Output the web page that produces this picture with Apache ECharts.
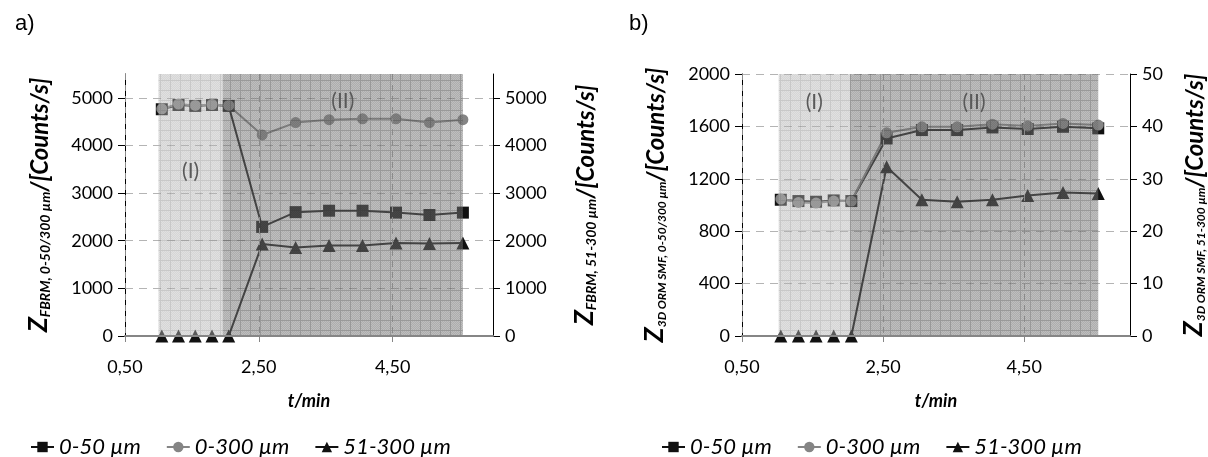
<!DOCTYPE html>
<html>
<head>
<meta charset="utf-8">
<script src="https://cdn.jsdelivr.net/npm/echarts@6/dist/echarts.min.js"></script>
<style>
  html, body { margin: 0; padding: 0; background: #fff; }
  #main { width: 1208px; height: 457px; }
</style>
</head>
<body>
<div id="main"></div>
<script>
// time points (min), same for both panels
var tMin = [1.05, 1.3, 1.55, 1.8, 2.05, 2.55, 3.05, 3.55, 4.05, 4.55, 5.05, 5.55];
var seriesNames = ['0-50 µm', '0-300 µm', '51-300 µm'];

// panel a) FBRM
var fbrm050 = [4760, 4850, 4830, 4850, 4830, 2290, 2600, 2630, 2630, 2590, 2540, 2590];
var fbrm0300 = [4770, 4870, 4840, 4860, 4840, 4220, 4480, 4540, 4560, 4560, 4480, 4540];
var fbrm51300 = [0, 0, 0, 0, 0, 1930, 1860, 1900, 1900, 1950, 1940, 1950];
var phaseA = [1.0, 1.96, 5.55];   // borders of (I) and (II)

// panel b) 3D ORM SMF
var orm050 = [1040, 1030, 1025, 1035, 1030, 1508, 1572, 1572, 1592, 1580, 1597, 1585];
var orm0300 = [1045, 1020, 1015, 1030, 1030, 1551, 1597, 1597, 1617, 1604, 1623, 1610];
var orm51300 = [0, 0, 0, 0, 0, 32.3, 26.0, 25.6, 26.0, 26.8, 27.4, 27.2];
var phaseB = [1.02, 2.03, 5.55];

var xTicks = [0.5, 2.5, 4.5];
var yTicksA = [0, 1000, 2000, 3000, 4000, 5000];

var FONT = 'Lato';

function pts(ys) {
  return tMin.map(function (t, i) { return [t, ys[i]]; });
}

// hatched, semi transparent fill (drawn over the lines like in the original)
function makePattern(base, dither, line) {
  var c = document.createElement('canvas');
  c.width = 10; c.height = 10;
  var g = c.getContext('2d');
  for (var y = 0; y < 10; y++) {
    for (var x = 0; x < 10; x++) {
      g.fillStyle = (x === 0 || y === 0) ? line : ((x + y) % 2 ? dither : base);
      g.fillRect(x, y, 1, 1);
    }
  }
  return { image: c, repeat: 'repeat' };
}
var lightFill = makePattern('rgba(185,185,185,0.44)', 'rgba(170,170,170,0.48)', 'rgba(150,150,150,0.52)');
var darkFill = makePattern('rgba(125,125,125,0.5)', 'rgba(105,105,105,0.54)', 'rgba(90,90,90,0.62)');

var phaseLabel = { show: true, position: 'insideTop', color: '#595959', fontSize: 21, fontFamily: FONT };

function phaseAreas(b, offI, offII) {
  return [
    [{ xAxis: b[0], itemStyle: { color: lightFill }, label: Object.assign({}, phaseLabel, { formatter: '(I)', offset: [0, offI] }) }, { xAxis: b[1] }],
    [{ xAxis: b[1], itemStyle: { color: darkFill }, label: Object.assign({}, phaseLabel, { formatter: '(II)', offset: [0, offII] }) }, { xAxis: b[2] }]
  ];
}

var tickFmt = function (v) { return v.toFixed(2).replace('.', ','); };

function xAxisOf(grid) {
  return {
    type: 'value', gridIndex: grid, min: 0.5, max: 6, z: 6,
    name: 't/min', nameLocation: 'middle', nameGap: 56, nameMoveOverlap: false,
    nameTextStyle: { fontFamily: FONT, fontSize: 18, fontWeight: 'bold', fontStyle: 'italic', color: '#000' },
    axisLine: { lineStyle: { color: '#868686', width: 2 } },
    axisTick: { length: 6, lineStyle: { color: '#868686' }, customValues: xTicks },
    axisLabel: { customValues: xTicks, formatter: tickFmt, margin: 22, fontFamily: FONT, fontSize: 18, color: '#000' },
    splitLine: { show: true, lineStyle: { color: '#8a8a8a', type: [6, 5] } }
  };
}

function yName(sub) {
  return '{z|Z}{s|' + sub + '}{u|/[Counts/s]}';
}
function yNameStyle(subSize) {
  return {
    color: '#000', fontFamily: FONT, fontWeight: 'bold', fontStyle: 'italic',
    rich: {
      z: { fontFamily: FONT, fontSize: 27, fontWeight: 'bold', fontStyle: 'italic', verticalAlign: 'bottom', lineHeight: 28 },
      s: { fontFamily: FONT, fontSize: subSize, fontWeight: 'bold', fontStyle: 'italic', verticalAlign: 'bottom', lineHeight: 21 },
      u: { fontFamily: FONT, fontSize: 24, fontWeight: 'bold', fontStyle: 'italic', verticalAlign: 'bottom', lineHeight: 28 }
    }
  };
}

function yAxisOf(grid, pos, min, max, interval, ticks, sub, subSize, gap, split) {
  var ax = {
    type: 'value', gridIndex: grid, position: pos, min: min, max: max, interval: interval,
    name: yName(sub), nameLocation: 'middle', nameRotate: 90, nameGap: gap, nameMoveOverlap: false,
    nameTextStyle: yNameStyle(subSize),
    axisLine: { show: true, lineStyle: { color: '#000', width: 1 } },
    axisTick: { show: true, length: 7, lineStyle: { color: '#000' } },
    axisLabel: { margin: 12, fontFamily: FONT, fontSize: 18, color: '#000', formatter: function (v) { return String(v); } },
    splitLine: { show: split, lineStyle: { color: '#b4b4b4', type: [8, 6] } }
  };
  if (ticks) {
    ax.axisTick.customValues = ticks;
    ax.axisLabel.customValues = ticks;
  }
  return ax;
}

var sq = { symbol: 'rect', symbolSize: 12, color: '#111', lineStyle: { color: '#111', width: 2 } };
var ci = { symbol: 'circle', symbolSize: 11, color: '#858585', lineStyle: { color: '#858585', width: 2 } };
var tr = { symbol: 'triangle', symbolSize: 13, color: '#111', lineStyle: { color: '#111', width: 2 } };

function lineSeries(name, style, xi, yi, ys, area) {
  var s = {
    name: name, type: 'line', xAxisIndex: xi, yAxisIndex: yi, data: pts(ys),
    symbol: style.symbol, symbolSize: style.symbolSize, showSymbol: true,
    itemStyle: { color: style.color, opacity: 1 }, lineStyle: style.lineStyle,
    clip: false, z: 3
  };
  if (area) s.markArea = { silent: true, z: 5, data: area };
  return s;
}

var legendBase = {
  top: 430, itemWidth: 23, itemHeight: 13, itemGap: 25, data: seriesNames,
  textStyle: { fontFamily: FONT, fontSize: 22, fontStyle: 'italic', color: '#000', lineHeight: 24 },
  selectedMode: false
};

var chart = echarts.init(document.getElementById('main'), null, { renderer: 'canvas' });
var option = {
  animation: false,
  backgroundColor: '#fff',
  title: [
    { text: 'a)', left: 10, top: 8, textStyle: { fontFamily: 'Liberation Sans', fontSize: 22, fontWeight: 'normal', color: '#000' } },
    { text: 'b)', left: 624, top: 8, textStyle: { fontFamily: 'Liberation Sans', fontSize: 22, fontWeight: 'normal', color: '#000' } }
  ],
  legend: [
    Object.assign({}, legendBase, { left: 25 }),
    Object.assign({}, legendBase, { left: 656 })
  ],
  grid: [
    { left: 125, top: 74, width: 368, height: 262 },
    { left: 742, top: 74, width: 389, height: 262 }
  ],
  xAxis: [xAxisOf(0), xAxisOf(1)],
  yAxis: [
    yAxisOf(0, 'left', 0, 5500, 1000, yTicksA, 'FBRM, 0-50/300 µm', 14, 73, true),
    yAxisOf(0, 'right', 0, 5500, 1000, yTicksA, 'FBRM, 51-300 µm', 14, 77, false),
    yAxisOf(1, 'left', 0, 2000, 400, null, '3D ORM SMF, 0-50/300 µm', 12, 74, true),
    yAxisOf(1, 'right', 0, 50, 10, null, '3D ORM SMF, 51-300 µm', 12, 49, false)
  ],
  series: [
    lineSeries(seriesNames[0], sq, 0, 0, fbrm050),
    lineSeries(seriesNames[1], ci, 0, 0, fbrm0300),
    lineSeries(seriesNames[2], tr, 0, 1, fbrm51300, phaseAreas(phaseA, 82, 12)),
    lineSeries(seriesNames[0], sq, 1, 2, orm050),
    lineSeries(seriesNames[1], ci, 1, 2, orm0300),
    lineSeries(seriesNames[2], tr, 1, 3, orm51300, phaseAreas(phaseB, 13, 13))
  ]
};
chart.setOption(option);
</script>
</body>
</html>
